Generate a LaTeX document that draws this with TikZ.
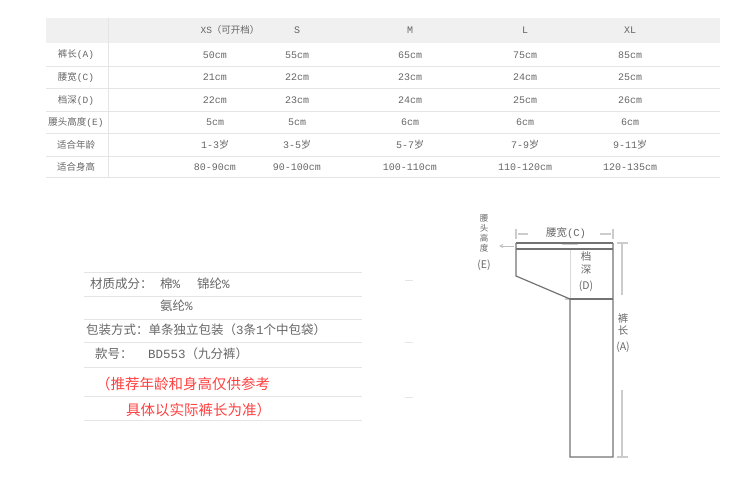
\documentclass[tikz,border=0pt]{standalone}
\usepackage{fontspec}
\setmainfont{Noto Sans CJK SC}
\newfontfamily\mono{Liberation Mono}
\newcommand{\mn}[1]{{\mono #1}}
\begin{document}
\begin{tikzpicture}[x=1pt,y=-1pt,
  txt/.style={font=\fontsize{9.5}{11}\selectfont,text=black!60,inner sep=0pt},
  val/.style={font=\fontsize{10}{11}\selectfont\mono,text=black!60,inner sep=0pt},
  low/.style={font=\fontsize{12.5}{14}\selectfont,text=black!60,inner sep=0pt,anchor=west},
  red/.style={font=\fontsize{14.5}{16}\selectfont,text=red!75!white,inner sep=0pt,anchor=west},
  plab/.style={font=\fontsize{10.5}{12.5}\selectfont,text=black!60,inner sep=0pt,align=center},
  rule/.style={draw=black!10,line width=0.8pt},
  dim/.style={draw=black!20,line width=1.2pt},
  pant/.style={draw=black!55,line width=1.2pt}]
\useasboundingbox (0,0) rectangle (750,500);
\fill[black!6] (46,18) rectangle (720,43);
\draw[rule] (108,18) -- (108,177);
\foreach \y in {66,88,111,133,156,177} \draw[rule] (46,\y) -- (720,\y);
% header
\node[txt] (h1) at (230,30) {\mn{XS}（可开档）};
\node[val] (h2) at (297,30) {S};
\node[val] (h3) at (410,30) {M};
\node[val] (h4) at (525,30) {L};
\node[val] (h5) at (630,30) {XL};
\foreach \lab/\y [count=\i] in {裤长\mn{(A)}/55,腰宽\mn{(C)}/77,档深\mn{(D)}/100,腰头高度\mn{(E)}/122,适合年龄/145,适合身高/167}
  \node[txt] (r\i) at (76,\y) {\lab};
\foreach \a/\b/\c/\d/\e/\y [count=\i] in {50cm/55cm/65cm/75cm/85cm/55,21cm/22cm/23cm/24cm/25cm/77,22cm/23cm/24cm/25cm/26cm/100,5cm/5cm/6cm/6cm/6cm/122,{1-3{\rmfamily 岁}}/{3-5{\rmfamily 岁}}/{5-7{\rmfamily 岁}}/{7-9{\rmfamily 岁}}/{9-11{\rmfamily 岁}}/145,80-90cm/90-100cm/100-110cm/110-120cm/120-135cm/167}{
  \node[val] (c\i a) at (215,\y) {\a};
  \node[val] (c\i b) at (297,\y) {\b};
  \node[val] (c\i c) at (410,\y) {\c};
  \node[val] (c\i d) at (525,\y) {\d};
  \node[val] (c\i e) at (630,\y) {\e};}
% lower left
\foreach \y in {272,296,319,342,367,396,420} \draw[rule] (84,\y) -- (362,\y);
\foreach \y in {280,342,397} \draw[rule] (405,\y) -- (413,\y);
\node[low] (m1) at (90,284) {材质成分：};
\node[low] (m2) at (160,284) {棉\mn{\%}};
\node[low] (m3) at (197,284) {锦纶\mn{\%}};
\node[low] (m4) at (160,306) {氨纶\mn{\%}};
\node[low] (p1) at (86,330) {包装方式：单条独立包装（\mn{3}条\mn{1}个中包袋）};
\node[low] (k1) at (95,354) {款号：};
\node[low] (k2) at (148,354) {\mn{BD553}（九分裤）};
\node[red] (n1) at (96,384) {（推荐年龄和身高仅供参考};
\node[red] (n2) at (126,410) {具体以实际裤长为准）};
% pants
\draw[dim] (516,229) -- (516,239) (613,229) -- (613,239);
\draw[dim] (518,234) -- (528,234) (600,234) -- (611,234);
\node[plab] (lc) at (566,233) {腰宽\mn{(C)}};
\draw[draw=black!15,line width=1pt] (570,249) -- (570,299);
\draw[dim] (562,244) -- (578,244) (565,299) -- (580,299);
\draw[pant] (516,243) -- (613,243) (516,249) -- (613,249);
\draw[pant] (516,243) -- (516,276) -- (570,299) -- (570,457) -- (613,457) -- (613,243);
\draw[pant] (570,299) -- (613,299);
\draw[dim] (617,243) -- (628,243) (622,243) -- (622,295) (622,390) -- (622,457) (617,457) -- (628,457);
\node[plab] (la) at (623,333) {裤\\长\\[3pt](A)};
\node[plab] (ld) at (586,272) {档\\深\\[4pt](D)};
\node[plab,font=\fontsize{8.5}{10}\selectfont] (le) at (484,243) {腰\\头\\高\\度\\[7pt]\fontsize{10.5}{12}\selectfont(E)};
\coordinate (ea) at (514,246); \coordinate (eb) at (499,246);
\draw[draw=black!25,line width=1pt,-stealth] (ea) -- (eb);
\end{tikzpicture}
\end{document}
